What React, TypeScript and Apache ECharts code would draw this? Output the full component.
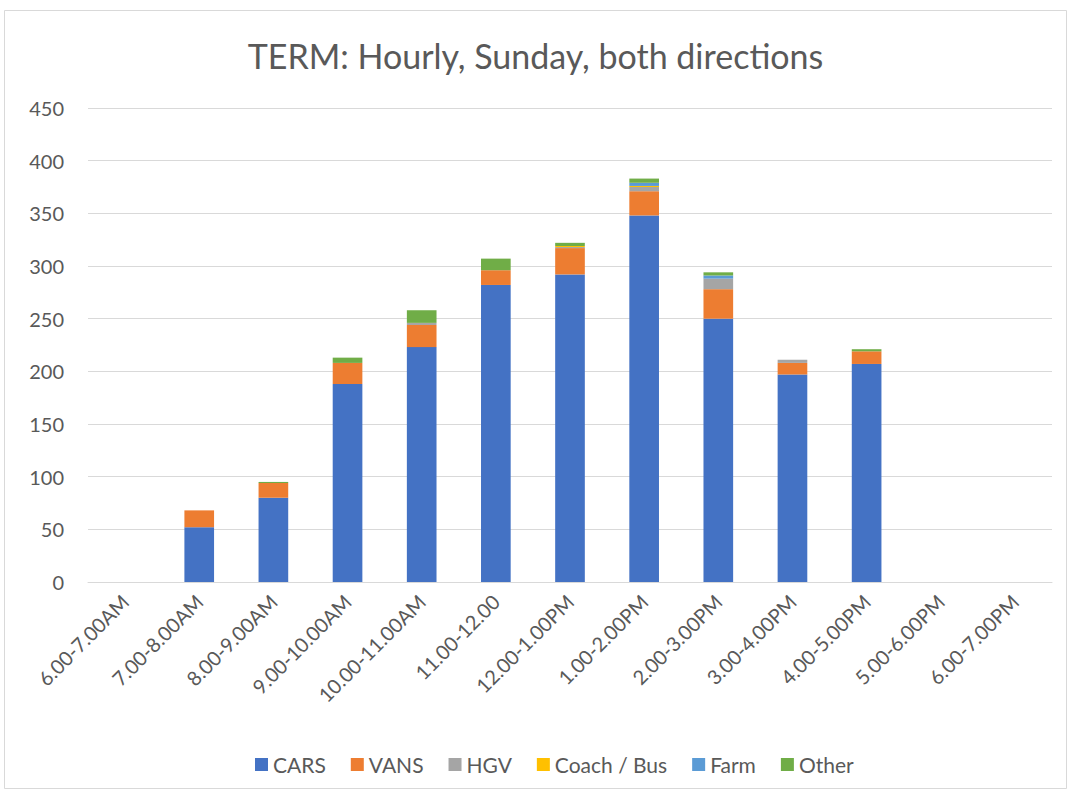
import React, { useEffect, useRef } from "react";
import * as echarts from "echarts";

const categories = [
  "6.00-7.00AM", "7.00-8.00AM", "8.00-9.00AM", "9.00-10.00AM", "10.00-11.00AM",
  "11.00-12.00", "12.00-1.00PM", "1.00-2.00PM", "2.00-3.00PM", "3.00-4.00PM",
  "4.00-5.00PM", "5.00-6.00PM", "6.00-7.00PM",
];
const cars = [0, 52, 80, 188, 223, 282, 292, 348, 250, 197, 207, 0, 0];
const vans = [0, 16, 14, 20, 21, 14, 25, 23, 28, 11, 12, 0, 0];
const hgv = [0, 0, 0, 0, 2, 0, 1, 4, 10, 3, 0, 0, 0];
const coach = [0, 0, 0, 0, 0, 0, 1, 1, 0, 0, 0, 0, 0];
const farm = [0, 0, 0, 0, 0, 0, 0, 3, 3, 0, 0, 0, 0];
const other = [0, 0, 1, 5, 12, 11, 3, 4, 3, 0, 2, 0, 0];

const seriesDefs = [
  { name: "CARS", data: cars, color: "#4472C4" },
  { name: "VANS", data: vans, color: "#ED7D31" },
  { name: "HGV", data: hgv, color: "#A5A5A5" },
  { name: "Coach / Bus", data: coach, color: "#FFC000" },
  { name: "Farm", data: farm, color: "#5B9BD5" },
  { name: "Other", data: other, color: "#70AD47" },
];

const FONT = "Lato, 'Open Sans', sans-serif";

export default function App() {
  const ref = useRef<HTMLDivElement>(null);
  useEffect(() => {
    if (!ref.current) return;
    const chart = echarts.init(ref.current, undefined, { renderer: "svg" });
    chart.setOption({
      animation: false,
      backgroundColor: "#ffffff",
      textStyle: { fontFamily: FONT },
      title: {
        text: "TERM: Hourly, Sunday, both directions",
        left: "center",
        top: 33,
        textStyle: { fontFamily: FONT, fontSize: 34, fontWeight: "normal", color: "#595959" },
      },
      graphic: [
        {
          type: "rect",
          shape: { x: 4.5, y: 10.5, width: 1062, height: 778 },
          style: { fill: "none", stroke: "#d9d9d9", lineWidth: 1 },
          silent: true,
        },
      ],
      legend: {
        top: 749,
        left: 250,
        itemWidth: 13,
        itemHeight: 13,
        itemGap: 25,
        icon: "rect",
        textStyle: { fontFamily: FONT, fontSize: 21, color: "#595959" },
        data: seriesDefs.map((s) => s.name),
      },
      grid: { left: 88, right: 19, top: 108, bottom: 214 },
      xAxis: {
        type: "category",
        data: categories,
        axisLine: { lineStyle: { color: "#d9d9d9", width: 1 } },
        axisTick: { show: false },
        axisLabel: {
          rotate: 45,
          fontFamily: FONT,
          fontSize: 20,
          color: "#595959",
          interval: 0,
          margin: 16,
        },
      },
      yAxis: {
        type: "value",
        min: 0,
        max: 450,
        interval: 50,
        axisLine: { show: false },
        axisTick: { show: false },
        splitLine: { lineStyle: { color: "#d9d9d9", width: 1 } },
        axisLabel: { fontFamily: FONT, fontSize: 20, color: "#595959", margin: 24 },
      },
      series: seriesDefs.map((s) => ({
        name: s.name,
        type: "bar",
        stack: "total",
        data: s.data,
        barWidth: "40%",
        itemStyle: { color: s.color },
      })),
    });
    return () => chart.dispose();
  }, []);
  return (
    <div
      ref={ref}
      style={{ position: "absolute", left: 0, top: 0, width: 1071, height: 796 }}
    />
  );
}
